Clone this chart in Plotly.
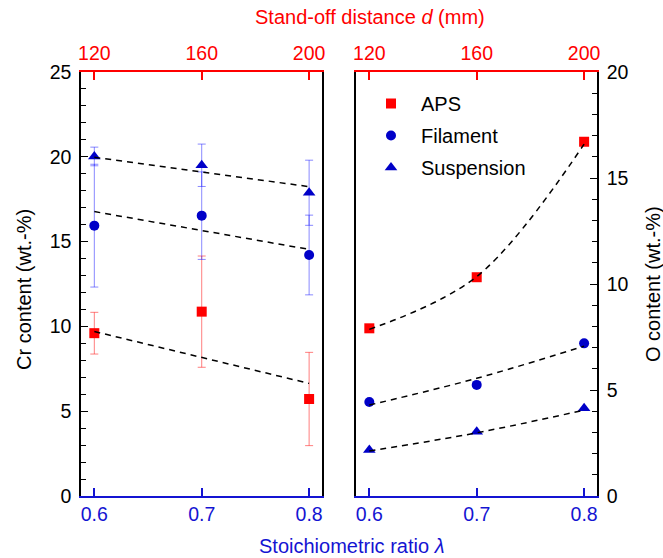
import plotly.graph_objects as go

# ---------------- data ----------------
ratio = [0.6, 0.7, 0.8]                 # stoichiometric ratio lambda
distance = [120, 160, 200]              # stand-off distance d (mm)
fit_x_lin = [0.6, 0.8]

# Cr content (left panel)
aps_cr = [9.6, 10.87, 5.72]
aps_cr_err = [1.23, 3.28, 2.75]
fil_cr = [15.94, 16.53, 14.21]
fil_cr_err = [3.62, 2.58, 2.35]
sus_cr = [20.02, 19.5, 17.88]
sus_cr_err = [0.55, 1.25, 1.92]
aps_cr_fit = [9.7, 6.64]
fil_cr_fit = [16.77, 14.54]
sus_cr_fit = [19.97, 18.24]

# O content (right panel)
aps_o = [7.91, 10.32, 16.71]
fil_o = [4.43, 5.24, 7.2]
sus_o = [2.17, 3.03, 4.14]
aps_o_fit = [7.86, 10.35, 16.6]
fil_o_fit = [4.29, 5.55, 7.07]
sus_o_fit = [2.12, 2.98, 4.05]

left_ticks = [0, 5, 10, 15, 20, 25]
right_ticks = [0, 5, 10, 15, 20]

# ---------------- style ----------------
W, H = 663, 558
FONT = "Liberation Sans, Arial, sans-serif"
RED = "#ff0000"
BLUE = "#0000c8"
BLUE_TXT = "#1414d2"
RED_ERR = "rgba(255,40,40,0.6)"
BLUE_ERR = "rgba(40,40,255,0.55)"
TICK_SIZE = 19.5

def px_x(p):
    return p / W

def px_y(p):
    return 1 - p / H

xl = [px_x(81), px_x(322)]
xr = [px_x(356), px_x(597)]
yd = [px_y(496), px_y(72)]
lam_range = [0.5876, 0.812]
# top axis (mm) mapped linearly from lambda: 120 at 0.6, 200 at 0.8
mm_range = [120 + (lam_range[0] - 0.6) * 400, 120 + (lam_range[1] - 0.6) * 400]

fig = go.Figure()

def err(vals, color):
    return dict(type="data", array=vals, visible=True, color=color, thickness=1, width=4)

# left panel points
fig.add_trace(go.Scatter(x=ratio, y=aps_cr, mode="markers", name="APS", showlegend=False,
                         marker=dict(symbol="square", size=10, color=RED),
                         error_y=err(aps_cr_err, RED_ERR), xaxis="x", yaxis="y"))
fig.add_trace(go.Scatter(x=ratio, y=fil_cr, mode="markers", name="Filament", showlegend=False,
                         marker=dict(symbol="circle", size=10, color=BLUE),
                         error_y=err(fil_cr_err, BLUE_ERR), xaxis="x", yaxis="y"))
fig.add_trace(go.Scatter(x=ratio, y=sus_cr, mode="markers", name="Suspension", showlegend=False,
                         marker=dict(symbol="triangle-up", size=11, color=BLUE),
                         error_y=err(sus_cr_err, BLUE_ERR), xaxis="x", yaxis="y"))
for f in (aps_cr_fit, fil_cr_fit, sus_cr_fit):
    fig.add_trace(go.Scatter(x=fit_x_lin, y=f, mode="lines", showlegend=False, hoverinfo="skip",
                             line=dict(color="black", width=1.5, dash="6px,5px"),
                             xaxis="x", yaxis="y"))
# invisible trace for top axis (mm)
fig.add_trace(go.Scatter(x=distance, y=[None] * 3, mode="markers", showlegend=False,
                         hoverinfo="skip", xaxis="x2", yaxis="y"))

# right panel
fig.add_trace(go.Scatter(x=ratio, y=aps_o, mode="markers", name="APS", legendgroup="a",
                         marker=dict(symbol="square", size=10, color=RED), xaxis="x3", yaxis="y2"))
fig.add_trace(go.Scatter(x=ratio, y=fil_o, mode="markers", name="Filament", legendgroup="b",
                         marker=dict(symbol="circle", size=10, color=BLUE), xaxis="x3", yaxis="y2"))
fig.add_trace(go.Scatter(x=ratio, y=sus_o, mode="markers", name="Suspension", legendgroup="c",
                         marker=dict(symbol="triangle-up", size=11, color=BLUE), xaxis="x3", yaxis="y2"))
for f in (aps_o_fit, fil_o_fit, sus_o_fit):
    fig.add_trace(go.Scatter(x=ratio, y=f, mode="lines", showlegend=False, hoverinfo="skip",
                             line=dict(color="black", width=1.5, dash="6px,5px", shape="spline"),
                             xaxis="x3", yaxis="y2"))
fig.add_trace(go.Scatter(x=distance, y=[None] * 3, mode="markers", showlegend=False,
                         hoverinfo="skip", xaxis="x4", yaxis="y2"))

tickfont_black = dict(family=FONT, size=TICK_SIZE, color="black")
tickfont_blue = dict(family=FONT, size=TICK_SIZE, color=BLUE_TXT)
tickfont_red = dict(family=FONT, size=TICK_SIZE, color=RED)

bottom_axis = dict(range=lam_range, tickvals=ratio, ticktext=["0.6", "0.7", "0.8"],
                   showline=True, linecolor=BLUE_TXT, linewidth=1.5, ticks="inside",
                   tickcolor=BLUE_TXT, ticklen=8, tickwidth=1.5, tickfont=tickfont_blue,
                   showgrid=False, zeroline=False, fixedrange=True, automargin=False)
top_axis = dict(range=mm_range, tickvals=distance, ticktext=["120", "160", "200"],
                side="top", showline=True, linecolor=RED, linewidth=1.5, ticks="inside",
                tickcolor=RED, ticklen=8, tickwidth=1.5, tickfont=tickfont_red,
                ticklabelstandoff=2,
                showgrid=False, zeroline=False, fixedrange=True, automargin=False)
y_common = dict(showline=True, mirror=True, linecolor="black", linewidth=1.5,
                ticks="inside", ticklen=7, tickwidth=1.2, tickcolor="black",
                minor=dict(dtick=1, ticks="inside", ticklen=5, tickcolor="black", tickwidth=1.2),
                tickfont=tickfont_black, ticklabelstandoff=4,
                showgrid=False, zeroline=False, fixedrange=True, automargin=False)

fig.update_layout(
    template="none",
    width=W, height=H,
    margin=dict(l=0, r=0, t=0, b=0, pad=0, autoexpand=False),
    paper_bgcolor="white", plot_bgcolor="white",
    font=dict(family=FONT, size=19, color="black"),
    xaxis=dict(domain=xl, anchor="y", **bottom_axis),
    xaxis2=dict(overlaying="x", anchor="y", **top_axis),
    xaxis3=dict(domain=xr, anchor="y2", **bottom_axis),
    xaxis4=dict(overlaying="x3", anchor="y2", **top_axis),
    yaxis=dict(domain=yd, anchor="x", range=[0, 25], tickvals=left_ticks, **y_common),
    yaxis2=dict(domain=yd, anchor="x3", side="right", range=[0, 20], tickvals=right_ticks, **y_common),
    legend=dict(x=px_x(361), y=px_y(84), xanchor="left", yanchor="top",
                bgcolor="rgba(0,0,0,0)", borderwidth=0,
                font=dict(family=FONT, size=20, color="black"),
                itemwidth=50, tracegroupgap=3),
    showlegend=True,
    annotations=[
        dict(text="Stand-off distance <i>d</i> (mm)", x=px_x(370), y=px_y(17), xref="paper", yref="paper",
             showarrow=False, xanchor="center", yanchor="middle",
             font=dict(family=FONT, size=20, color=RED)),
        dict(text="Stoichiometric ratio <i>λ</i>", x=px_x(351), y=px_y(546), xref="paper", yref="paper",
             showarrow=False, xanchor="center", yanchor="middle",
             font=dict(family=FONT, size=20, color=BLUE_TXT)),
        dict(text="Cr content (wt.-%)", x=px_x(24), y=px_y(290), xref="paper", yref="paper",
             showarrow=False, xanchor="center", yanchor="middle", textangle=-90,
             font=dict(family=FONT, size=20, color="black")),
        dict(text="O content (wt.-%)", x=px_x(653), y=px_y(284), xref="paper", yref="paper",
             showarrow=False, xanchor="center", yanchor="middle", textangle=-90,
             font=dict(family=FONT, size=20, color="black")),
    ],
)

fig.write_html("out.html", config={"displayModeBar": False},
               post_script="document.body.style.margin='0';document.body.style.padding='0';")
